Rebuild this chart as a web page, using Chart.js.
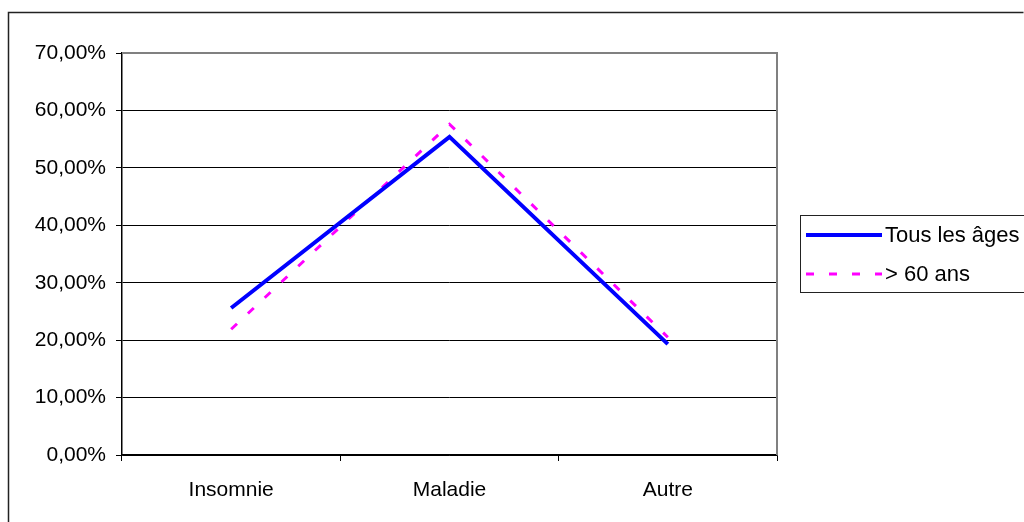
<!DOCTYPE html>
<html>
<head>
<meta charset="utf-8">
<script src="https://cdn.jsdelivr.net/npm/chart.js@4.4.1/dist/chart.umd.min.js"></script>
<style>
html,body{margin:0;padding:0;background:#fff;}
#wrap{width:1024px;height:522px;position:relative;}
</style>
</head>
<body>
<div id="wrap"><canvas id="c" width="1024" height="522"></canvas></div>
<script>
const categories = ["Insomnie", "Maladie", "Autre"];
const seriesNames = ["Tous les âges", "> 60 ans"];
const tousLesAges = [25.6, 55.4, 19.3];
const plus60 = [21.9, 57.6, 20.5];
const yTicks = [0, 10, 20, 30, 40, 50, 60, 70];

const FONT = "'Liberation Sans', Arial, sans-serif";

const framePlugin = {
  id: 'frame',
  beforeDraw(chart) {
    const ctx = chart.ctx;
    ctx.save();
    ctx.fillStyle = '#fff';
    ctx.fillRect(0, 0, chart.width, chart.height);
    ctx.restore();
  },
  afterDraw(chart) {
    const ctx = chart.ctx;
    const a = chart.chartArea;
    ctx.save();
    ctx.strokeStyle = '#808080';
    ctx.lineWidth = 2;
    ctx.beginPath();
    ctx.moveTo(a.left, a.top);
    ctx.lineTo(a.right, a.top);
    ctx.lineTo(a.right, a.bottom);
    ctx.stroke();
    ctx.strokeStyle = '#222';
    ctx.lineWidth = 1.5;
    ctx.beginPath();
    ctx.moveTo(8.5, chart.height + 2);
    ctx.lineTo(8.5, 12.5);
    ctx.lineTo(1023.5, 12.5);
    ctx.stroke();
    ctx.strokeStyle = '#222';
    ctx.lineWidth = 1;
    ctx.strokeRect(800.5, 215.5, 240, 77);
    const ds = chart.data.datasets;
    const rows = [235, 274];
    ds.forEach((d, i) => {
      ctx.strokeStyle = d.borderColor;
      ctx.lineWidth = d.borderWidth;
      ctx.setLineDash(d.borderDash || []);
      ctx.beginPath();
      ctx.moveTo(806, rows[i]);
      ctx.lineTo(882, rows[i]);
      ctx.stroke();
      ctx.setLineDash([]);
      ctx.fillStyle = '#000';
      ctx.font = '22px ' + FONT;
      ctx.textBaseline = 'middle';
      ctx.textAlign = 'left';
      ctx.fillText(d.label, 885, rows[i] + 1);
    });
    ctx.restore();
  }
};

new Chart(document.getElementById('c'), {
  type: 'line',
  data: {
    labels: categories,
    datasets: [
      { label: seriesNames[0], data: tousLesAges, borderColor: '#0000FF', borderWidth: 4, pointRadius: 0, tension: 0, fill: false },
      { label: seriesNames[1], data: plus60, borderColor: '#FF00FF', borderWidth: 3, borderDash: [8, 15], pointRadius: 0, tension: 0, fill: false }
    ]
  },
  options: {
    responsive: false,
    animation: false,
    devicePixelRatio: 1,
    layout: { padding: { left: 0, right: 247, top: 53, bottom: 0 } },
    plugins: { legend: { display: false }, tooltip: { enabled: false } },
    scales: {
      x: {
        type: 'category',
        offset: true,
        afterFit(s) { s.height = 67; },
        grid: { offset: true, drawOnChartArea: false, drawTicks: true, tickLength: 6, color: '#000', lineWidth: 1 },
        border: { display: true, color: '#000', width: 1.5 },
        ticks: { color: '#000', font: { family: FONT, size: 21 }, padding: 17, maxRotation: 0 }
      },
      y: {
        min: 0, max: 70,
        afterFit(s) { s.width = 122; },
        afterBuildTicks(s) { s.ticks = yTicks.map(v => ({ value: v })); },
        grid: { color: '#000', lineWidth: 1, tickLength: 6, drawTicks: true },
        border: { display: true, color: '#000', width: 1.5 },
        ticks: {
          color: '#000', font: { family: FONT, size: 21 }, padding: 10,
          callback: v => v.toFixed(2).replace('.', ',') + '%'
        }
      }
    }
  },
  plugins: [framePlugin]
});
</script>
</body>
</html>
